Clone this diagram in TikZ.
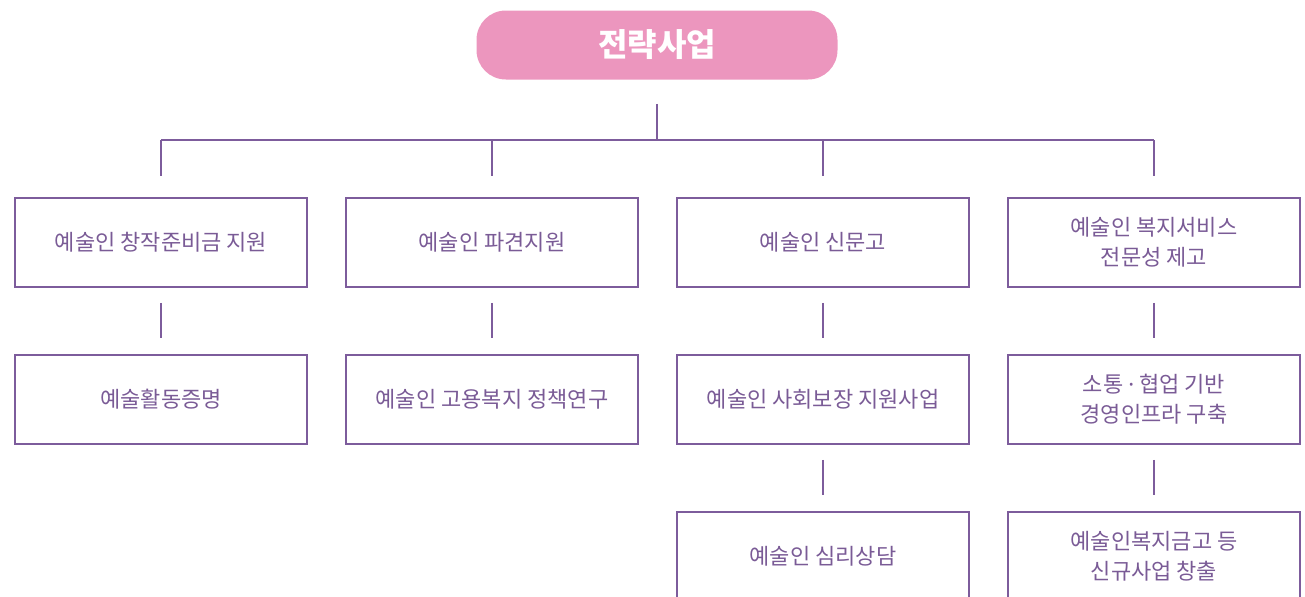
\documentclass[tikz,border=0pt]{standalone}
\usepackage{fontspec}
\setmainfont{Noto Sans CJK KR}
\newfontfamily\dotfont{Noto Sans}
\definecolor{linepurple}{HTML}{7D5C9C}
\definecolor{textpurple}{HTML}{7A5B96}
\definecolor{titlepink}{HTML}{EC96BE}
\begin{document}
\begin{tikzpicture}
        [x=0.75pt,y=-0.75pt,
         box/.style={draw=linepurple,line width=1.5pt,minimum width=219pt,minimum height=66.75pt,
                     align=center,text=textpurple,font=\fontsize{16.5}{22.5}\selectfont},
         link/.style={draw=linepurple,line width=1.2pt}]
        \useasboundingbox (0,0) rectangle (1305,596);
        \clip (0,0) rectangle (1305,596);

        \node[fill=titlepink,rounded corners=22pt,minimum width=270.75pt,minimum height=51.75pt,
              text=white,font=\fontsize{24}{28}\selectfont\bfseries] (top) at (657,45) {전략사업};
        \coordinate (bus) at (657,140);

        \node[box] (a1) at (161,242) {예술인 창작준비금 지원};
        \node[box] (a2) at (492,242) {예술인 파견지원};
        \node[box] (a3) at (823,242) {예술인 신문고};
        \node[box] (a4) at (1154,242) {예술인 복지서비스\\전문성 제고};

        \node[box] (b1) at (161,399) {예술활동증명};
        \node[box] (b2) at (492,399) {예술인 고용복지 정책연구};
        \node[box] (b3) at (823,399) {예술인 사회보장 지원사업};
        \node[box] (b4) at (1154,399) {소통 {\dotfont ·} 협업 기반\\경영인프라 구축};

        \node[box] (c3) at (823,556) {예술인 심리상담};
        \node[box] (c4) at (1154,556) {예술인복지금고 등\\신규사업 창출};

        \draw[link,shorten <=18pt] (top.south) -- (bus);
        \draw[link] (a1 |- bus) -- (a4 |- bus);
        \foreach \n in {a1,a2,a3,a4}
        {\draw[link,shorten >=15.4pt] (\n |- bus) -- (\n.north);}
        \foreach \u/\v in {a1/b1,a2/b2,a3/b3,a4/b4,b3/c3,b4/c4}
        {\draw[link,shorten <=11.6pt,shorten >=11.6pt] (\u.south) -- (\v.north);}
      \end{tikzpicture}
\end{document}
